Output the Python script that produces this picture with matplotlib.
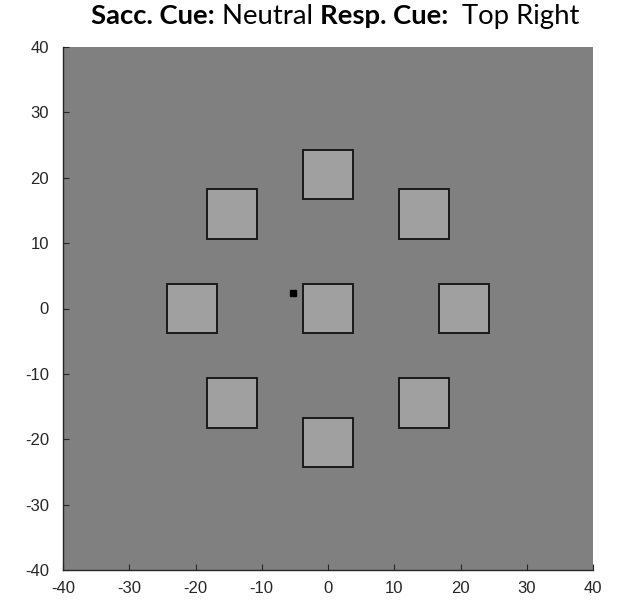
import matplotlib
matplotlib.use("Agg")
import matplotlib.pyplot as plt
import numpy as np
from matplotlib.patches import Rectangle

plt.rcParams["axes.unicode_minus"] = False

# Data
square_x = [0, 14.5, 20.5, 14.5, 0, -14.5, -20.5, -14.5, 0]
square_y = [20.5, 14.5, 0, -14.5, -20.5, -14.5, 0, 14.5, 0]
square_size = 7.6
fix_x = [-5.3]
fix_y = [2.3]
ticks = [-40, -30, -20, -10, 0, 10, 20, 30, 40]
title_parts = [("Sacc. Cue:", "bold"), (" Neutral ", "normal"),
               ("Resp. Cue:", "bold"), ("  Top Right", "normal")]

W, H = 631, 603
fig = plt.figure(figsize=(W / 100, H / 100), dpi=100)
fig.patch.set_facecolor("white")
ax = fig.add_axes([63 / W, 33 / H, 530 / W, 523 / H])
ax.set_facecolor("#808080")
ax.set_xlim(-40, 40)
ax.set_ylim(-40, 40)

for x, y in zip(square_x, square_y):
    ax.add_patch(Rectangle((x - square_size / 2, y - square_size / 2),
                           square_size, square_size,
                           facecolor="#a0a0a0", edgecolor="#1a1a1a", lw=1.4))
ax.plot(fix_x, fix_y, marker="s", color="black", ms=4, ls="none")

ax.set_xticks(ticks)
ax.set_yticks(ticks)
ax.tick_params(direction="in", length=4, color="#262626", labelsize=12,
               labelcolor="#262626", top=False, right=False)
ax.tick_params(axis="x", pad=8)
ax.tick_params(axis="y", pad=10)
for lab in ax.get_xticklabels() + ax.get_yticklabels():
    lab.set_family("Liberation Sans")
for s in ["top", "right"]:
    ax.spines[s].set_visible(False)
for s in ["left", "bottom"]:
    ax.spines[s].set_color("#262626")
    ax.spines[s].set_linewidth(1.0)

# Title made of bold / regular pieces
renderer = fig.canvas.get_renderer()
fs = 18
target_w = 489
def draw_title(fs):
    texts = []
    x = 91
    for s, w in title_parts:
        t = fig.text(x / W, 1 - 24 / H, s, fontsize=fs, fontweight=w,
                     family="Lato", ha="left", va="baseline", color="black")
        bb = t.get_window_extent(renderer=renderer)
        x += bb.width
        texts.append(t)
    return texts, x - 91
texts, tw = draw_title(fs)
for t in texts:
    t.remove()
fs = fs * target_w / tw
texts, tw = draw_title(fs)

fig.savefig("out.png", dpi=100)
